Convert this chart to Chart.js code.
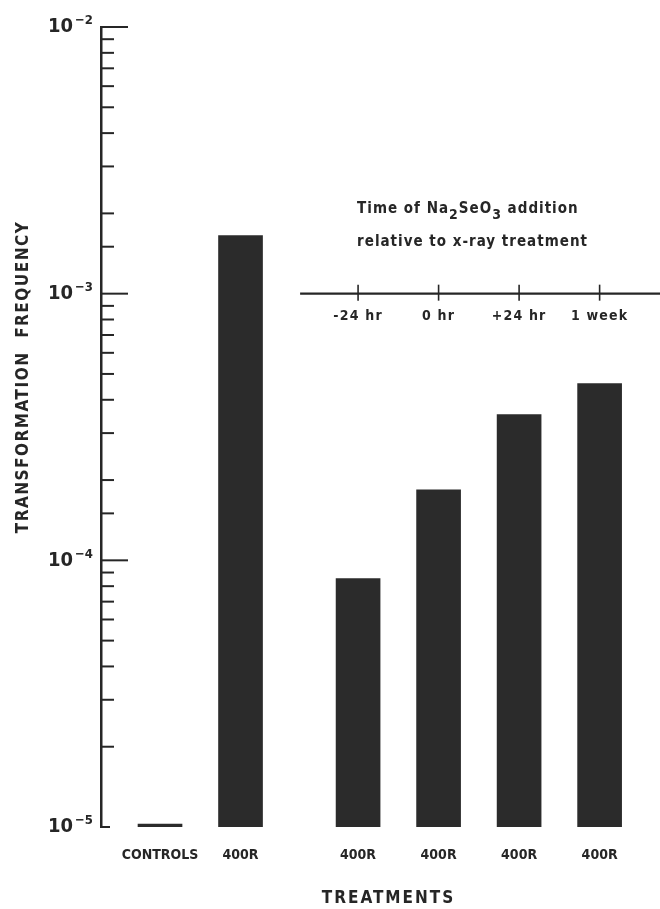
<!DOCTYPE html>
<html>
<head>
<meta charset="utf-8">
<script src="https://cdn.jsdelivr.net/npm/chart.js@4.4.1/dist/chart.umd.min.js"></script>
<style>
  body { margin: 0; background: #fff; }
  #wrap { width: 660px; height: 909px; }
</style>
</head>
<body>
<div id="wrap"><canvas id="chart"></canvas></div>
<script>
// data
const treatments = ['CONTROLS', '400R', '400R', '400R', '400R', '400R'];
const slots = [0, 1, 2.46, 3.46, 4.46, 5.46];   // x position of each bar (in bar spacings)
const frequency = [1e-5, 1.65e-3, 8.55e-5, 1.84e-4, 3.52e-4, 4.6e-4];
const timeLabels = ['-24 hr', '0 hr', '+24 hr', '1 week'];   // for the last four bars
const decadeValues = [1e-5, 1e-4, 1e-3, 1e-2];
const decadeExponents = ['−5', '−4', '−3', '−2'];

const ink = '#262626';
const family = "'DejaVu Sans Condensed', 'Liberation Sans Narrow', sans-serif";

const decadeIndex = v => decadeValues.findIndex(d => Math.abs(d - v) / d < 1e-6);

// letter spacing for the axis texts, and the extras drawn on top
const marks = {
  id: 'marks',
  beforeDraw(chart) {
    Object.values(chart.scales).forEach(s => {
      if (s._patched) return;
      s._patched = true;
      const titleSp = s.axis === 'x' ? '2px' : '1.5px';
      const drawTitle = s.drawTitle;
      s.drawTitle = function(a) {
        const c = this.ctx;
        c.save();
        c.letterSpacing = titleSp;
        if (this.axis === 'y') c.translate(0, -50);
        else c.translate(8, 0);
        drawTitle.call(this, a);
        c.restore();
      };
    });
  },
  afterDraw(chart) {
    const {ctx, chartArea, scales: {x, y}} = chart;
    ctx.save();
    ctx.strokeStyle = ink;
    ctx.fillStyle = ink;

    // tick marks on the inside of the y axis, exponents of the decade labels
    ctx.lineWidth = 2;
    ctx.font = 'bold 13px ' + family;
    ctx.textAlign = 'left';
    ctx.textBaseline = 'middle';
    y.ticks.forEach(t => {
      const py = y.getPixelForValue(t.value);
      const d = decadeIndex(t.value);
      let len = d >= 0 ? 27 : 13;
      if (d === 0) len = 9;
      ctx.beginPath();
      ctx.moveTo(chartArea.left, py);
      ctx.lineTo(chartArea.left + len, py);
      ctx.stroke();
      if (d >= 0) ctx.fillText(decadeExponents[d], 75, py - 6);
    });

    // inset time line at 10^-3
    const ty = y.getPixelForValue(1e-3);
    ctx.lineWidth = 2.2;
    ctx.beginPath();
    ctx.moveTo(x.getPixelForValue(1.74), ty);
    ctx.lineTo(chartArea.right, ty);
    ctx.stroke();
    ctx.lineWidth = 1.6;
    ctx.font = 'bold 14px ' + family;
    ctx.letterSpacing = '1.2px';
    ctx.textAlign = 'center';
    timeLabels.forEach((lab, i) => {
      const px = x.getPixelForValue(slots[i + 2]);
      ctx.beginPath();
      ctx.moveTo(px, ty - 9);
      ctx.lineTo(px, ty + 7);
      ctx.stroke();
      ctx.fillText(lab, px, ty + 23);
    });

    // inset caption with subscripts
    const x0 = x.getPixelForValue(slots[2]) - 1;
    ctx.textAlign = 'left';
    ctx.textBaseline = 'alphabetic';
    ctx.letterSpacing = '1px';
    const parts = [['Time of Na', 0], ['2', 1], ['SeO', 0], ['3', 1], [' addition', 0]];
    let cx = x0;
    parts.forEach(([txt, sub]) => {
      ctx.font = (sub ? 'bold 14px ' : 'bold 15px ') + family;
      ctx.fillText(txt, cx, ty - 81 + (sub ? 6 : 0));
      cx += ctx.measureText(txt).width;
    });
    ctx.font = 'bold 15px ' + family;
    ctx.fillText('relative to x-ray treatment', x0, ty - 48);
    ctx.restore();
  }
};

new Chart(document.getElementById('chart'), {
  type: 'bar',
  data: {
    datasets: [{
      label: 'Transformation frequency',
      data: slots.map((s, i) => ({x: s, y: frequency[i]})),
      backgroundColor: '#2b2b2b',
      borderWidth: 0,
      barThickness: 44,
      minBarLength: 3
    }]
  },
  options: {
    responsive: true,
    maintainAspectRatio: false,
    animation: false,
    layout: { padding: { top: 27, right: 0, bottom: 0, left: 0 } },
    plugins: {
      legend: { display: false },
      tooltip: { enabled: false }
    },
    scales: {
      x: {
        type: 'linear',
        min: -0.733,
        max: 6.21,
        offset: false,
        grid: { display: false, drawTicks: false },
        border: { display: false },
        afterBuildTicks: scale => { scale.ticks = slots.map(v => ({value: v})); },
        afterFit: scale => { scale.height = 82; },
        ticks: {
          autoSkip: false,
          maxRotation: 0,
          padding: 20,
          color: ink,
          font: { family: family, size: 14, weight: 'bold' },
          callback: value => treatments[slots.indexOf(value)]
        },
        title: {
          display: true,
          text: 'TREATMENTS',
          color: ink,
          padding: { top: 0, bottom: 0 },
          font: { family: family, size: 17, weight: 'bold' }
        }
      },
      y: {
        type: 'logarithmic',
        min: 1e-5,
        max: 1e-2,
        grid: { display: false, drawTicks: false },
        border: { display: true, color: ink, width: 2.5 },
        afterFit: scale => {
          scale.width = 101;
          scale.paddingTop = 0;
          scale.paddingBottom = 0;
        },
        ticks: {
          autoSkip: false,
          padding: 28,
          color: ink,
          font: { family: family, size: 20, weight: 'bold' },
          callback: value => decadeIndex(value) >= 0 ? '10' : ''
        },
        title: {
          display: true,
          text: 'TRANSFORMATION  FREQUENCY',
          color: ink,
          padding: { top: 13, bottom: 0 },
          font: { family: family, size: 17, weight: 'bold' }
        }
      }
    }
  },
  plugins: [marks]
});
</script>
</body>
</html>
